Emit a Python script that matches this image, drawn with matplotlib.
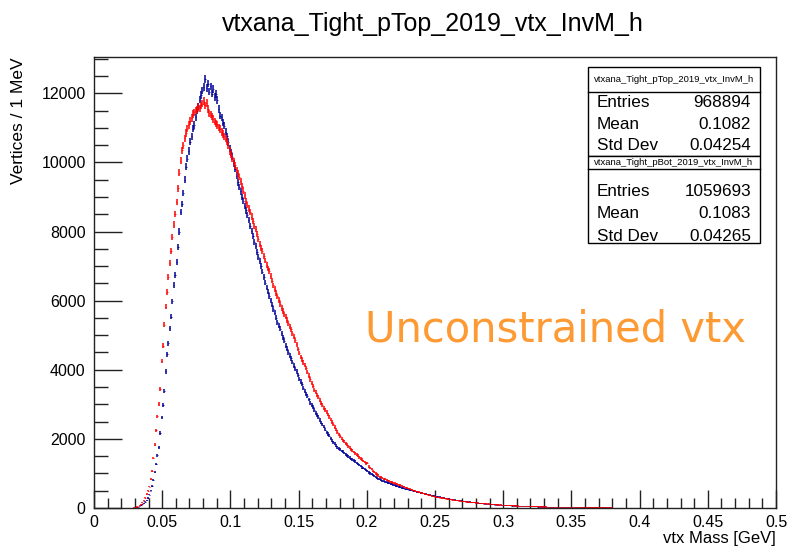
import numpy as np
import matplotlib
matplotlib.use("Agg")
import matplotlib.pyplot as plt
from matplotlib.patches import Rectangle
from matplotlib.lines import Line2D
from matplotlib.ticker import MultipleLocator, FormatStrFormatter

plt.rcParams['font.family'] = ['Liberation Sans', 'DejaVu Sans']

# histogram binning: 1 MeV bins, first filled bin starts at 25 MeV
first_bin = 25
bin_width = 0.001

# pTop (blue) counts per 1 MeV bin, 25 .. 300 MeV
top_counts = [
    0, 0, 0, 0, 3, 8, 15, 30, 55, 80,
    105, 140, 180, 230, 290, 390, 500, 640, 820, 1050,
    1280, 1520, 1760, 2170, 2620, 2970, 3380, 3950, 4450, 4770,
    5200, 5530, 5980, 6450, 6750, 7130, 7550, 8000, 8570, 8800,
    9110, 9500, 9880, 10100, 10330, 10600, 10760, 10980, 11080, 11300,
    11500, 11620, 11820, 11950, 12080, 12180, 12420, 12150, 12280, 12050,
    12200, 11990, 12120, 11900, 11980, 11800, 11550, 11350, 11300, 11150,
    11060, 10890, 10760, 10590, 10410, 10290, 10160, 9970, 9810, 9610,
    9420, 9290, 9160, 9000, 8880, 8740, 8610, 8480, 8340, 8170,
    8020, 7880, 7710, 7570, 7420, 7270, 7140, 7010, 6840, 6690,
    6520, 6380, 6260, 6140, 6010, 5880, 5760, 5650, 5510, 5380,
    5280, 5180, 5060, 4940, 4840, 4700, 4610, 4500, 4410, 4330,
    4220, 4120, 4030, 3950, 3850, 3740, 3660, 3580, 3480, 3390,
    3300, 3230, 3140, 3050, 2990, 2920, 2840, 2750, 2690, 2630,
    2550, 2470, 2410, 2350, 2270, 2190, 2140, 2090, 2020, 1950,
    1900, 1860, 1800, 1750, 1720, 1690, 1650, 1630, 1590, 1550,
    1520, 1490, 1460, 1420, 1400, 1380, 1340, 1300, 1270, 1250,
    1210, 1170, 1150, 1120, 1090, 1060, 1030, 1000, 975, 950,
    925, 905, 875, 850, 830, 805, 790, 770, 760, 745,
    730, 712, 700, 688, 670, 655, 640, 628, 612, 600,
    588, 574, 564, 554, 540, 530, 518, 510, 500, 488,
    480, 470, 458, 450, 440, 430, 421, 412, 404, 394,
    385, 376, 368, 358, 349, 340, 332, 325, 316, 308,
    300, 292, 285, 276, 268, 261, 254, 248, 242, 236,
    230, 224, 218, 212, 206, 200, 195, 190, 185, 180,
    175, 170, 165, 160, 155, 150, 146, 142, 138, 134,
    130, 126, 122, 118, 114, 110, 107, 104, 101, 98,
    95, 92, 90, 88, 86, 84,
]
# pTop tail, 301 .. 499 MeV
top_tail = [
    82, 80, 77, 75, 74, 71, 70, 67, 66, 64, 62, 61, 59, 57, 56, 55, 53, 52, 50, 49,
    48, 47, 45, 44, 43, 42, 41, 40, 39, 38, 37, 36, 35, 34, 33, 33, 32, 31, 30, 29,
    29, 28, 27, 27, 26, 25, 25, 24, 23, 23, 22, 22, 21, 21, 20, 20, 19, 19, 18, 18,
    18, 17, 17, 16, 16, 16, 15, 15, 15, 14, 14, 14, 13, 13, 13, 12, 12, 12, 12, 11,
    11, 11, 11, 10, 10, 10, 10, 10, 9, 9, 9, 9, 9, 8, 8, 8, 8, 8, 8, 7,
    7, 7, 7, 7, 7, 6, 6, 6, 6, 6, 6, 6, 6, 5, 5, 5, 5, 5, 5, 5,
    5, 5, 5, 4, 4, 4, 4, 4, 4, 4, 4, 4, 4, 4, 3, 3, 3, 3, 3, 3,
    3, 3, 3, 3, 3, 3, 3, 3, 3, 3, 3, 2, 2, 2, 2, 2, 2, 2, 2, 2,
    2, 2, 2, 2, 2, 2, 2, 2, 2, 2, 2, 2, 2, 2, 2, 2, 1, 2, 1, 2,
    1, 1, 2, 1, 1, 1, 1, 1, 1, 1, 1, 1, 1, 1, 1, 1, 1, 1, 1,
]

# pBot (red) counts per 1 MeV bin, 25 .. 300 MeV
bot_counts = [
    0, 0, 3, 8, 15, 25, 40, 55, 75, 105,
    150, 210, 300, 410, 500, 620, 850, 1080, 1450, 1830,
    2250, 2650, 3000, 3450, 4250, 4700, 5300, 5830, 6250, 6690,
    7100, 7450, 7850, 8200, 8500, 8850, 9250, 9700, 10050, 10350,
    10500, 10700, 10850, 10980, 11080, 11200, 11280, 11400, 11450, 11500,
    11530, 11600, 11560, 11650, 11700, 11780, 11650, 11720, 11550, 11420,
    11380, 11330, 11260, 11180, 11120, 11080, 11020, 10970, 10880, 10820,
    10750, 10680, 10600, 10480, 10330, 10220, 10120, 10020, 9920, 9780,
    9680, 9580, 9450, 9320, 9180, 9050, 8880, 8760, 8660, 8560,
    8430, 8310, 8170, 8070, 7930, 7780, 7640, 7520, 7430, 7300,
    7160, 7020, 6930, 6860, 6720, 6580, 6440, 6330, 6220, 6120,
    6020, 5900, 5790, 5700, 5610, 5530, 5440, 5350, 5260, 5170,
    5060, 4960, 4850, 4740, 4600, 4490, 4370, 4290, 4210, 4130,
    4050, 3930, 3830, 3720, 3620, 3520, 3420, 3350, 3270, 3200,
    3120, 3040, 2970, 2900, 2830, 2770, 2700, 2630, 2560, 2490,
    2420, 2340, 2270, 2200, 2130, 2070, 2010, 1960, 1920, 1870,
    1830, 1790, 1750, 1700, 1660, 1620, 1580, 1540, 1510, 1470,
    1430, 1400, 1360, 1330, 1290, 1300, 1200, 1160, 1120, 1080,
    1040, 1000, 970, 940, 910, 885, 865, 845, 825, 810,
    795, 780, 765, 750, 735, 720, 705, 690, 675, 655,
    638, 624, 610, 596, 582, 568, 554, 540, 526, 512,
    498, 484, 470, 458, 446, 434, 422, 410, 398, 386,
    374, 362, 350, 340, 330, 322, 315, 308, 301, 294,
    287, 280, 273, 266, 259, 252, 246, 240, 234, 229,
    223, 218, 212, 207, 201, 196, 190, 185, 180, 176,
    172, 168, 164, 160, 156, 153, 150, 146, 143, 140,
    136, 132, 128, 124, 120, 116, 113, 110, 107, 104,
    101, 98, 95, 92, 90, 87,
]
# pBot tail, 301 .. 499 MeV
bot_tail = [
    85, 83, 80, 78, 76, 73, 72, 69, 67, 66, 64, 62, 60, 59, 57, 56, 54, 53, 51, 50,
    49, 47, 46, 45, 44, 43, 41, 40, 39, 38, 38, 37, 36, 35, 34, 33, 32, 31, 31, 30,
    29, 28, 28, 27, 26, 26, 25, 24, 24, 23, 23, 22, 21, 21, 20, 20, 19, 19, 19, 18,
    18, 17, 17, 17, 16, 16, 15, 15, 15, 14, 14, 14, 13, 13, 13, 13, 12, 12, 12, 11,
    11, 11, 11, 10, 10, 10, 10, 10, 9, 9, 9, 9, 9, 8, 8, 8, 8, 8, 8, 7,
    7, 7, 7, 7, 7, 7, 6, 6, 6, 6, 6, 6, 6, 5, 5, 5, 5, 5, 5, 5,
    5, 5, 5, 5, 4, 4, 4, 4, 4, 4, 4, 4, 4, 4, 4, 3, 3, 3, 3, 3,
    3, 3, 3, 3, 3, 3, 3, 3, 3, 3, 3, 3, 2, 2, 2, 2, 2, 2, 2, 2,
    2, 2, 2, 2, 2, 2, 2, 2, 2, 2, 2, 2, 2, 2, 2, 2, 2, 1, 2, 1,
    2, 1, 1, 1, 1, 1, 1, 1, 1, 1, 1, 1, 1, 1, 1, 1, 1, 1, 1,
]

# stats boxes
hist_names = ["vtxana_Tight_pTop_2019_vtx_InvM_h", "vtxana_Tight_pBot_2019_vtx_InvM_h"]
stat_labels = ["Entries", "Mean", "Std Dev"]
stat_values = [["968894", "0.1082", "0.04254"], ["1059693", "0.1083", "0.04265"]]

W, H = 788, 549
def fx(px):
    return px / W
def fy(py):
    return 1 - py / H

top = np.array(top_counts + top_tail, dtype=float)
bot = np.array(bot_counts + bot_tail, dtype=float)
centers = (first_bin + np.arange(len(top)) + 0.5) * bin_width

fig = plt.figure(figsize=(7.88, 5.49), dpi=100)
ax = fig.add_axes([fx(94), fy(508), fx(776) - fx(94), fy(57) - fy(508)])

# vertical error bars (sqrt N) plus thin bin-width bars, ROOT "E" style
for counts, col in [(top, '#000099'), (bot, '#ff0000')]:
    ax.errorbar(centers, counts, yerr=np.sqrt(counts), fmt='none',
                ecolor=col, elinewidth=1.1)
    ax.hlines(counts, centers - bin_width / 2, centers + bin_width / 2,
              colors=col, linewidth=0.6)

ax.set_xlim(0, 0.5)
ax.set_ylim(0, 13050)
ax.xaxis.set_major_locator(MultipleLocator(0.05))
ax.xaxis.set_minor_locator(MultipleLocator(0.01))
ax.yaxis.set_major_locator(MultipleLocator(2000))
ax.yaxis.set_minor_locator(MultipleLocator(500))
ax.xaxis.set_major_formatter(FormatStrFormatter('%g'))
ax.tick_params(which='both', direction='in', top=False, right=False, colors='#222222')
ax.tick_params(axis='x', which='major', length=13, width=1, labelsize=11.5, pad=5, labelcolor='black')
ax.tick_params(axis='x', which='minor', length=7, width=1)
ax.tick_params(axis='y', which='major', length=20, width=1, labelsize=11.5, pad=6, labelcolor='black')
ax.tick_params(axis='y', which='minor', length=10, width=1)
for s in ax.spines.values():
    s.set_color('#222222')
    s.set_linewidth(1)

fig.text(fx(433), fy(24), "vtxana_Tight_pTop_2019_vtx_InvM_h", ha='center', va='center', fontsize=18)
fig.text(fx(19), fy(57), "Vertices / 1 MeV", rotation=90, ha='center', va='top', fontsize=12.5)
fig.text(fx(776), fy(538), "vtx Mass [GeV]", ha='right', va='center', fontsize=12)
fig.text(fx(365), fy(330), "Unconstrained vtx", color='#fd9a33', fontsize=30,
         family='DejaVu Sans', ha='left', va='center')

# stats boxes (ROOT style)
box_top = [67, 156]
box_sep = [92, 169]
box_bottom = [156, 243]
row_y = [[102.7, 124.5, 146], [191.7, 214, 236.7]]
for i in range(2):
    fig.add_artist(Rectangle((fx(588), fy(box_bottom[i])), fx(760) - fx(588),
                             fy(box_top[i]) - fy(box_bottom[i]), transform=fig.transFigure,
                             facecolor='white', edgecolor='black', linewidth=1))
    fig.add_artist(Line2D([fx(588), fx(760)], [fy(box_sep[i])] * 2,
                          transform=fig.transFigure, color='black', linewidth=1))
    fig.text(fx(674), fy((box_top[i] + box_sep[i]) / 2), hist_names[i],
             ha='center', va='center', fontsize=6.8)
    for lab, val, yy in zip(stat_labels, stat_values[i], row_y[i]):
        fig.text(fx(597), fy(yy), lab, ha='left', va='center', fontsize=12.3)
        fig.text(fx(751), fy(yy), val, ha='right', va='center', fontsize=12.3)

fig.savefig("out.png", dpi=100)
